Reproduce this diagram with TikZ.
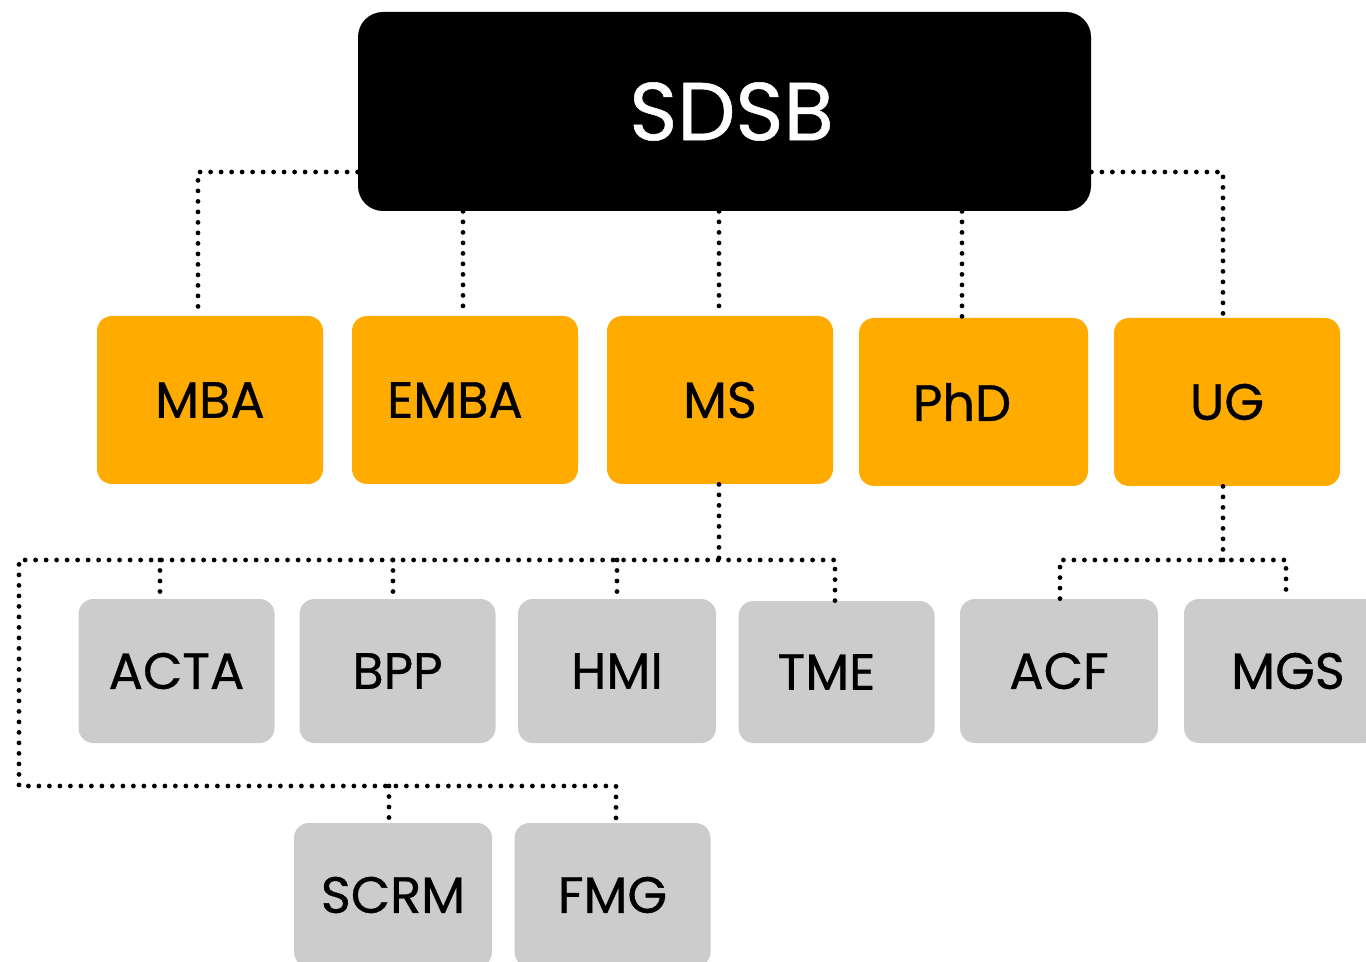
\documentclass[tikz,border=0pt]{standalone}
\usepackage{fontspec}
\setmainfont{Poppins}[FakeBold=0.7]
\definecolor{orng}{HTML}{FFAB00}
\definecolor{gry}{HTML}{CCCCCC}
\tikzset{
  topbox/.style={fill=black, text=white, rounded corners=12.5pt, inner sep=0pt, font=\fontsize{41}{48}\selectfont},
  midbox/.style={fill=orng, text=black, rounded corners=7.5pt, inner sep=0pt, minimum width=113pt, minimum height=84pt, font=\fontsize{25.5}{30}\selectfont},
  lowbox/.style={fill=gry, text=black, rounded corners=7.5pt, inner sep=0pt, minimum width=98pt, minimum height=72pt, font=\fontsize{25.5}{30}\selectfont},
  dotline/.style={line width=2.4pt, line cap=round, dash pattern=on 0pt off 5.25pt, black}
}
\begin{document}
\begin{tikzpicture}[x=0.5pt, y=-0.5pt]
\useasboundingbox (0,0) rectangle (1366,962);
\begin{scope}
\clip (0,0) rectangle (1366,962);
\node[topbox, minimum width=366.5pt, minimum height=99.5pt] (sdsb) at (724.5,111.5) {\hspace*{7pt}SDSB};
\node[midbox] (mba) at (210,400) {MBA};
\node[midbox] (emba) at (465,400) {\hspace*{-10pt}EMBA};
\node[midbox] (ms) at (720,400) {MS};
\node[midbox, minimum width=114.5pt] (phd) at (973.5,402) {\hspace*{-11.5pt}PhD};
\node[midbox] (ug) at (1227,402) {UG};
\node[lowbox] (acta) at (176.5,671) {ACTA};
\node[lowbox] (bpp) at (397.5,671) {BPP};
\node[lowbox, minimum width=99pt] (hmi) at (617,671) {HMI};
\node[lowbox, minimum height=71pt] (tme) at (836.5,672) {\hspace*{-10pt}\raisebox{-4pt}{TME}};
\node[lowbox, minimum width=99pt] (acf) at (1059,671) {ACF};
\node[lowbox] (mgs) at (1282,671) {\hspace*{6pt}MGS};
\node[lowbox, minimum width=99pt] (scrm) at (393,895) {SCRM};
\node[lowbox] (fmg) at (612.5,895) {FMG};
\end{scope}
% junction coordinates
\coordinate (jl) at (198,172);
\coordinate (jr) at (1223,172);
\coordinate (jm) at (719,560);
\coordinate (jleft) at (19,560);
\coordinate (jlow) at (19,786);
\coordinate (ju) at (1223,560);
% top level connectors
\draw[dotline] (sdsb.west |- jl) -- (jl) -- (jl |- mba.north);
\draw[dotline] (sdsb.south -| 463,0) -- (463,0 |- emba.north);
\draw[dotline] (sdsb.south -| jm) -- (jm |- ms.north);
\draw[dotline] (sdsb.south -| 962,0) -- (962,0 |- phd.north);
\draw[dotline] (sdsb.east |- jr) -- (jr) -- (jr |- ug.north);
% MS branch
\draw[dotline] (ms.south -| jm) -- (jm);
\draw[dotline] (835,0 |- tme.north) -- (835,560) -- (jleft) -- (jlow) -- (616,786) -- (616,0 |- fmg.north);
\draw[dotline] (160,560) -- (160,0 |- acta.north);
\draw[dotline] (393,560) -- (393,0 |- bpp.north);
\draw[dotline] (617,560) -- (617,0 |- hmi.north);
\draw[dotline] (389,786) -- (389,0 |- scrm.north);
% UG branch
\draw[dotline] (ug.south -| ju) -- (ju);
\draw[dotline] (1060,0 |- acf.north) -- (1060,560) -- (1286,560) -- (1286,0 |- mgs.north);
\end{tikzpicture}
\end{document}
